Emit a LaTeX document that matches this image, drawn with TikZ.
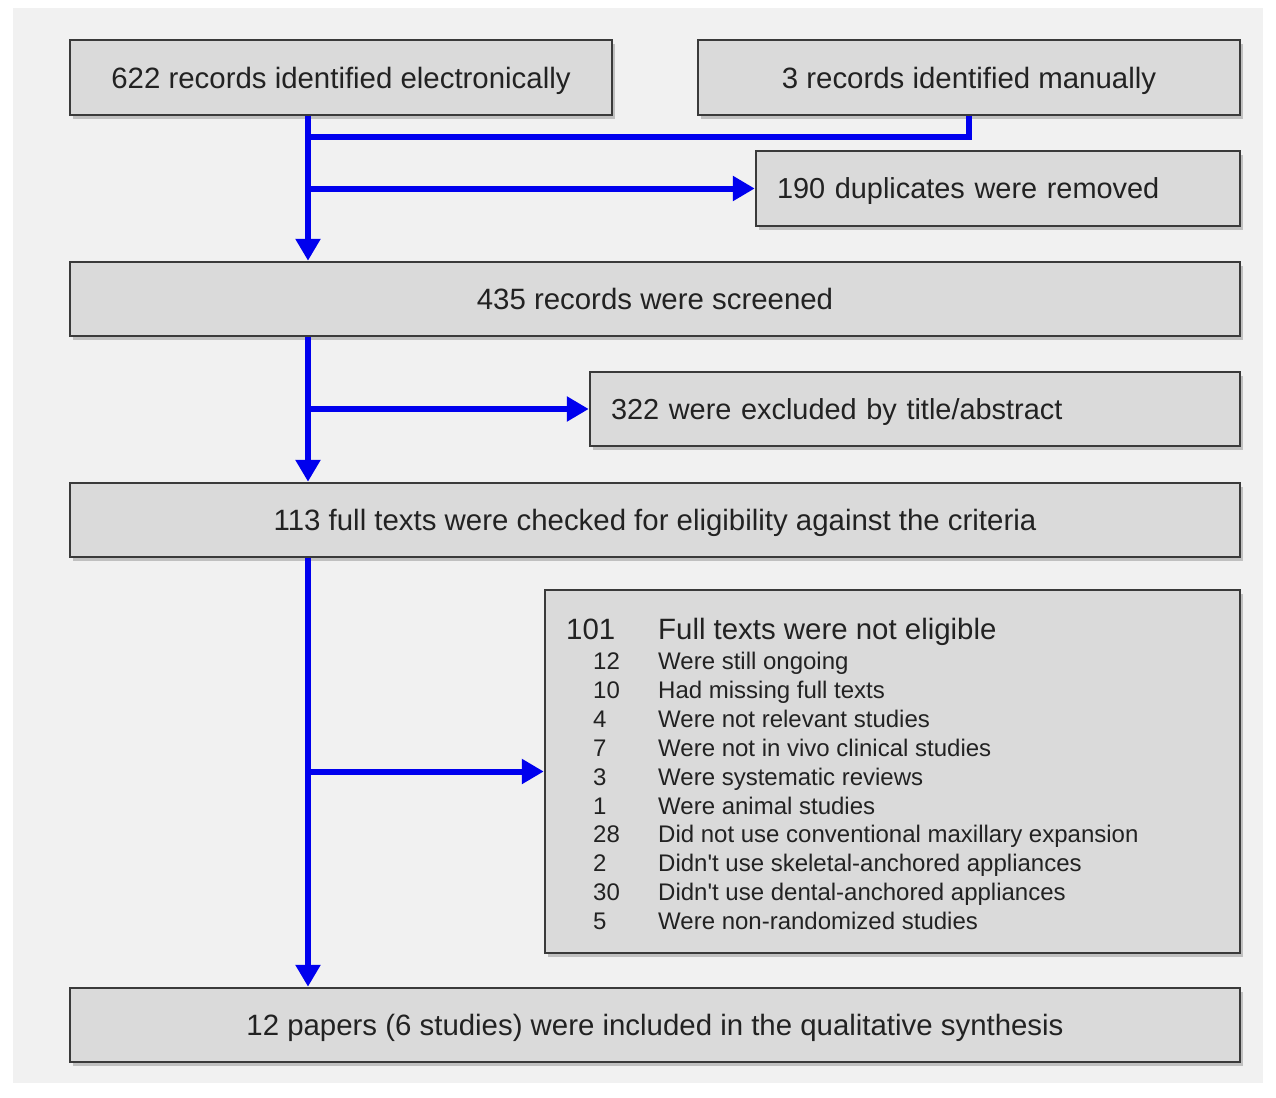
\documentclass[tikz,border=0pt]{standalone}
\usepackage{fontspec}
\setmainfont{Liberation Sans}
\usetikzlibrary{arrows.meta,shadows,calc}
\definecolor{panelbg}{HTML}{F1F1F1}
\definecolor{boxfill}{HTML}{DADADA}
\definecolor{boxline}{HTML}{3A3A3A}
\definecolor{flowblue}{HTML}{0000EE}
\definecolor{txt}{HTML}{222222}
\begin{document}
\begin{tikzpicture}[x=1pt,y=-1pt,
  box/.style={draw=boxline, line width=2.5pt, fill=boxfill, inner sep=0pt,
    drop shadow={shadow xshift=3pt, shadow yshift=-4pt, opacity=0.35, fill=black!60},
    text=txt, font=\fontsize{29.4}{33}\selectfont, text depth=0pt},
  leftbox/.style={box, align=left, text width=#1, inner xsep=21pt, font=\fontsize{28.9}{33}\selectfont},
  line/.style={draw=flowblue, line width=6pt},
  flow/.style={line, -{Triangle[width=24pt,length=22pt]}},
  big/.style={anchor=base west, inner sep=0pt, text=txt, font=\fontsize{29.4}{33}\selectfont},
  small/.style={anchor=base west, inner sep=0pt, text=txt, font=\fontsize{24}{27}\selectfont}]
\useasboundingbox (0,0) rectangle (1276,1097);
\fill[white] (0,0) rectangle (1276,1097);
\fill[panelbg] (13,8) rectangle (1263,1083);

\node[box, minimum width=542pt, minimum height=75pt] (b1) at (341,77.5) {622 records identified electronically};
\node[box, minimum width=542pt, minimum height=75pt] (b2) at (969,77.5) {3 records identified manually};
\node[leftbox=442pt, minimum height=75pt] (b3) at (998,188.5) {190 duplicates were removed};
\node[box, minimum width=1170pt, minimum height=74pt] (b4) at (655,299) {435 records were screened};
\node[leftbox=608pt, minimum height=74pt] (b5) at (915,409) {322 were excluded by title/abstract};
\node[box, minimum width=1170pt, minimum height=74pt] (b6) at (655,520) {113 full texts were checked for eligibility against the criteria};
\node[box, minimum width=695pt, minimum height=363pt] (b7) at (892.5,771.5) {};
\node[box, minimum width=1170pt, minimum height=74pt] (b8) at (655,1025) {12 papers (6 studies) were included in the qualitative synthesis};

\node[big] (n0) at (566,639) {101};
\node[big] (t0) at (658,639) {Full texts were not eligible};
\foreach \i/\n/\t in {0/12/Were still ongoing,1/10/Had missing full texts,2/4/Were not relevant studies,3/7/Were not in vivo clinical studies,4/3/Were systematic reviews,5/1/Were animal studies,6/28/Did not use conventional maxillary expansion,7/2/Didn\textquotesingle t use skeletal-anchored appliances,8/30/Didn\textquotesingle t use dental-anchored appliances,9/5/Were non-randomized studies}{
  \node[small] (n\n) at (593,{669.5+28.9*\i}) {\n};
  \node[small] (r\i) at (658,{669.5+28.9*\i}) {\t};
}

\coordinate (spine) at (308,0);
\coordinate (j1) at (308,137);
\coordinate (j2) at (308,188.5);
\coordinate (j3) at (308,409);
\coordinate (j4) at (308,771.5);

\draw[line] (b2.south) |- (j1);
\draw[flow] (b1.south -| spine) -- (b4.north -| spine);
\draw[flow] (j2) -- (b3.west);
\draw[flow] (b4.south -| spine) -- (b6.north -| spine);
\draw[flow] (j3) -- (b5.west);
\draw[flow] (b6.south -| spine) -- (b8.north -| spine);
\draw[flow] (j4) -- (b7.west);
\end{tikzpicture}
\end{document}
